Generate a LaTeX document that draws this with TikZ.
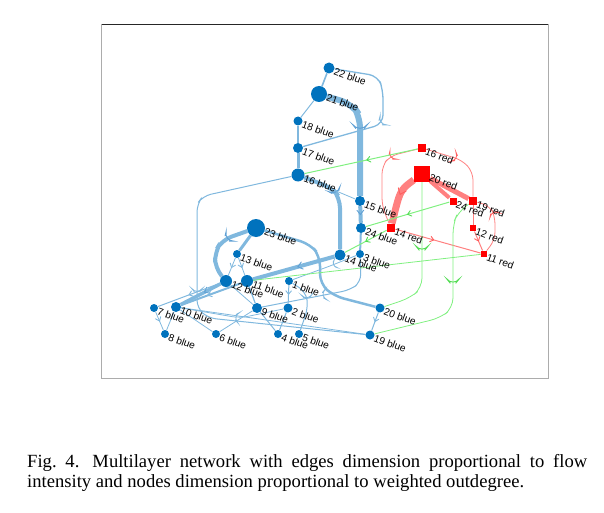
\documentclass[tikz,border=0pt]{standalone}
\usepackage{fontspec}
\setmainfont{Liberation Serif}
\newfontfamily\lblfont{Liberation Sans}
\usetikzlibrary{arrows.meta,decorations.markings,calc}
\definecolor{nblue}{RGB}{0,114,189}
\definecolor{eblue}{RGB}{128,184,222}
\definecolor{ablue}{RGB}{95,160,212}
\definecolor{ered}{RGB}{255,128,128}
\definecolor{ared}{RGB}{255,95,95}
\definecolor{egreen}{RGB}{128,240,128}
\definecolor{agreen}{RGB}{80,220,80}
\pgfdeclarelayer{bg}
\pgfsetlayers{bg,main}
\tikzset{
 bn/.style={circle, fill=nblue, inner sep=0pt, minimum size=#1},
 rn/.style={rectangle, fill=red, inner sep=0pt, minimum size=#1},
 lbl/.style={font=\lblfont\fontsize{10.2}{12}\selectfont, inner sep=0pt, anchor=north west, rotate=-20},
 be/.style={draw=eblue, line width=#1},
 re/.style={draw=ered, line width=#1},
 ge/.style={draw=egreen, line width=#1},
 ar/.style 2 args={postaction={decorate,decoration={markings,mark=at position #1 with {\draw[#2,line width=0.9pt,line cap=round,line join=miter] (-3.5pt,2.8pt) -- (0pt,0pt) -- (-3.5pt,-2.8pt);}}}},
}
\begin{document}
\begin{tikzpicture}[x=1pt,y=-1pt]
\useasboundingbox (0,0) rectangle (604,513);
% frame
\draw[gray!65, line width=0.7pt] (101.5,24) -- (101.5,378) -- (548,378) -- (548,24);
\draw[black!85, line width=0.7pt] (101.5,24) -- (548,24);
% blue nodes
\node[bn=11pt] (b22) at (329,68) {};
\node[bn=16pt] (b21) at (319,94) {};
\node[bn=9pt] (b18) at (298,121) {};
\node[bn=10pt] (b17) at (298,148) {};
\node[bn=13pt] (b16) at (298,175) {};
\node[bn=10pt] (b15) at (360,201) {};
\node[bn=10pt] (b24) at (361,228) {};
\node[bn=8pt] (b3) at (360,254) {};
\node[bn=11pt] (b14) at (340,255) {};
\node[bn=18pt] (b23) at (256,228) {};
\node[bn=8pt] (b13) at (237,254) {};
\node[bn=12pt] (b12) at (226,281) {};
\node[bn=12pt] (b11) at (247,281) {};
\node[bn=8pt] (b1) at (289,281) {};
\node[bn=10pt] (b9) at (257,308) {};
\node[bn=9pt] (b2) at (288,308) {};
\node[bn=10pt] (b10) at (176,307) {};
\node[bn=8pt] (b7) at (154,308) {};
\node[bn=8pt] (b8) at (165,334) {};
\node[bn=8pt] (b6) at (216,334) {};
\node[bn=8pt] (b4) at (278,334) {};
\node[bn=8pt] (b5) at (299,334) {};
\node[bn=9pt] (b20) at (380,308) {};
\node[bn=9pt] (b19) at (370,335) {};
% red nodes
\node[rn=8pt] (r16) at (422,148) {};
\node[rn=16pt] (r20) at (422,174) {};
\node[rn=7pt] (r24) at (453,201) {};
\node[rn=8.5pt] (r19) at (473,201) {};
\node[rn=8.5pt] (r14) at (391,228) {};
\node[rn=6.5pt] (r12) at (473,228) {};
\node[rn=6.5pt] (r11) at (484,254) {};
% labels
\foreach \n in {22,21,18,17,16,15,24,3,14,23,13,12,11,1,9,2,10,7,8,6,4,5,20,19}{
  \node[lbl] (lb\n) at ([xshift=0.8pt,yshift=1pt]b\n.east) {\n{} blue};
}
\foreach \n in {16,20,24,19,14,12,11}{
  \node[lbl] (lr\n) at ([xshift=0.8pt,yshift=1pt]r\n.east) {\n{} red};
}
\begin{pgfonlayer}{bg}
% blue edges
\draw[be=1.6pt] (b22) -- (b21);
\draw[be=1.3pt, rounded corners=9pt, ar={0.56}{eblue}] (b22) -- (378,76) -- (383,90) -- (383,124) -- (b17);
\draw[be=1pt] (b21) -- (b18);
\draw[be=6pt, rounded corners=12pt, ar={0.55}{ablue,scale=1.5}] (b21) -- (352,104) -- (360,116) -- (b15);
\draw[be=1.6pt] (b18) -- (b17);
\draw[be=3pt] (b17) -- (b16);
\draw[be=4pt, rounded corners=10pt, ar={0.5}{ablue,scale=1.3}] (b16) -- (332,188) -- (340,198) -- (b14);
\draw[be=0.8pt] (b16) -- (b15);
\draw[be=1pt, rounded corners=8pt, ar={0.52}{eblue}] (b16) -- (203,196) -- (197,204) -- (197,308) -- (208,318) -- (b19);
\draw[be=4pt, ar={0.5}{ablue,scale=1.2}] (b15) -- (b24);
\draw[be=2pt] (b24) -- (b3);
\draw[be=4pt, ar={0.45}{ablue,scale=1.3}] (b14) -- (b11);
\draw[be=3.5pt, ar={0.4}{ablue,scale=1.2}] (b12) -- (b10);
\draw[be=2pt, ar={0.55}{eblue}] (b11) -- (b10);
\draw[be=3pt] (b23) -- (b13);
\draw[be=4pt, rounded corners=10pt, ar={0.3}{ablue,scale=1.2}] (b23) -- (222,240) -- (215,252) -- (215,268) -- (b12);
\draw[be=2.5pt, rounded corners=10pt] (b23) -- (310,244) -- (320,256) -- (320,284) -- (334,296) -- (b20);
\draw[be=0.8pt, ar={0.55}{eblue}] (b13) -- (b12);
\draw[be=0.8pt, ar={0.55}{eblue}] (b13) -- (b11);
\draw[be=1pt, ar={0.5}{eblue}] (b12) -- (b7);
\draw[be=1.2pt] (b11) -- (b9);
\draw[be=0.8pt] (b12) -- (b9);
\draw[be=0.8pt, rounded corners=6pt, ar={0.4}{eblue}] (b3) -- (330,266) -- (b1);
\draw[be=1pt, rounded corners=8pt, ar={0.55}{eblue}] (b3) -- (361,282) -- (350,290) -- (b9);
\draw[be=1pt, ar={0.5}{eblue}] (b1) -- (b2);
\draw[be=1pt, rounded corners=8pt, ar={0.45}{eblue}] (b1) -- (306,292) -- (308,308) -- (b5);
\draw[be=1pt] (b2) -- (b4);
\draw[be=1pt] (b9) -- (b4);
\draw[be=1pt, ar={0.5}{eblue}] (b20) -- (b19);
\draw[be=0.8pt] (b19) -- (b10);
\draw[be=0.8pt] (b10) -- (b6);
\draw[be=0.8pt] (b10) -- (b8);
\draw[be=0.8pt, ar={0.5}{eblue}] (b7) -- (b8);
\draw[be=0.8pt] (b9) -- (b6);
\draw[be=0.8pt, rounded corners=8pt, ar={0.5}{eblue}] (b2) -- (240,318) -- (b10);
% red edges
\draw[re=0.8pt, rounded corners=8pt, ar={0.3}{ared}] (r16) -- (390,156) -- (382,166) -- (382,206) -- (r14);
\draw[re=0.8pt, rounded corners=8pt, ar={0.45}{ared}] (r16) -- (462,160) -- (473,172) -- (r19);
\draw[re=7pt, ar={0.4}{ared,scale=1.5}] (r20) .. controls (400,190) .. (r14);
\draw[re=4pt] (r20) -- (r24);
\draw[re=5pt] (r20) -- (r19);
\draw[re=1pt] (r19) -- (r12);
\draw[re=0.8pt, rounded corners=8pt, ar={0.35}{ared}] (r19) -- (490,206) -- (495,216) -- (495,240) -- (r11);
\draw[re=1pt, ar={0.5}{ared}] (r12) -- (r11);
\draw[re=1pt, ar={0.45}{ared}] (r14) -- (r11);
% green edges
\draw[ge=1pt, ar={0.45}{agreen}] (r16) -- (b16);
\draw[ge=0.8pt, rounded corners=10pt, ar={0.46}{agreen}] (r20) -- (422,288) -- (410,298) -- (b20);
\draw[ge=1pt, ar={0.5}{agreen}] (r24) -- (b24);
\draw[ge=0.8pt, rounded corners=10pt, ar={0.48}{agreen}] (r19) -- (458,212) -- (453,224) -- (453,308) -- (440,318) -- (b19);
\draw[ge=1pt, ar={0.5}{agreen}] (r14) -- (b14);
\draw[ge=0.8pt] (r11) -- (b11);
\end{pgfonlayer}
% caption
\node[anchor=north west, text width=560pt, inner sep=0pt, align=justify, font=\fontsize{18.6}{20.5}\selectfont] (cap) at (27,454) {Fig.~4.\hspace{0.7em}Multilayer network with edges dimension proportional to flow\linebreak intensity and nodes dimension proportional to weighted outdegree.};
\end{tikzpicture}
\end{document}
